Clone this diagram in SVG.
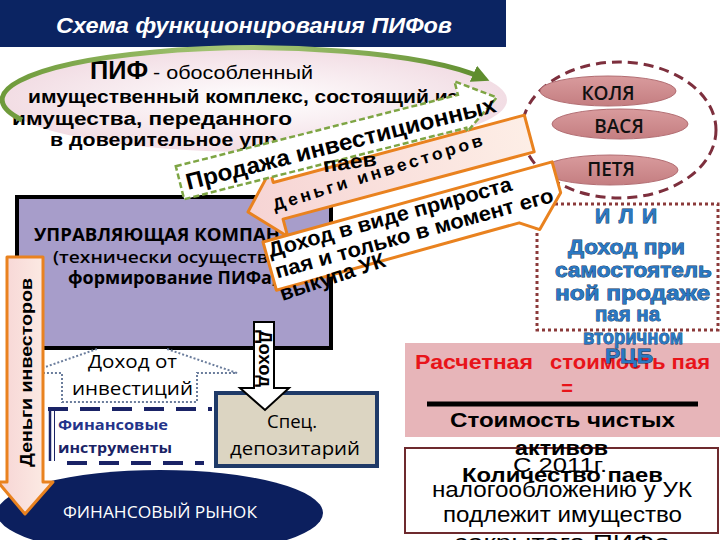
<svg xmlns="http://www.w3.org/2000/svg" width="720" height="540" viewBox="0 0 720 540">
<defs>
<style>
text{font-family:"Liberation Sans",Arial,sans-serif;fill:#000}
.b{font-weight:bold}
.cal{font-family:"Open Sans","Noto Sans",sans-serif}
.ili{font-weight:bold;font-size:21px;fill:#2a78c2;stroke:#0c2f57;stroke-width:0.8px;paint-order:stroke}
.name{font-family:"Open Sans","Noto Sans",sans-serif;font-weight:600;font-size:19px;fill:#111;text-anchor:middle}
.nm{fill:url(#gName);stroke:#b26d72;stroke-width:1}
.org{stroke:#e9821f;stroke-width:3;stroke-linejoin:round}
.navy{stroke:#1a2366;fill:none}
</style>
<radialGradient id="gPif" cx="0.5" cy="0.5" r="0.5">
<stop offset="0" stop-color="#ffffff"/><stop offset="1" stop-color="#f2dde4"/>
</radialGradient>
<linearGradient id="gGreen" x1="0" y1="0" x2="1" y2="0">
<stop offset="0" stop-color="#6e9a3a"/><stop offset="0.5" stop-color="#a9c97a"/><stop offset="1" stop-color="#5f8d2e"/>
</linearGradient>
<linearGradient id="gName" x1="0" y1="0" x2="0" y2="1">
<stop offset="0" stop-color="#d99b9d"/><stop offset="1" stop-color="#c47e81"/>
</linearGradient>
<linearGradient id="gPink" x1="0" y1="0" x2="1" y2="0">
<stop offset="0" stop-color="#f6d4d4"/><stop offset="1" stop-color="#fdeee6"/>
</linearGradient>
<marker id="mGreen" viewBox="0 0 10 10" refX="6" refY="5" markerWidth="3.5" markerHeight="3.5" orient="auto"><path d="M0,0 L10,5 L0,10 z" fill="#5f8d2e"/></marker>
</defs>
<rect x="0" y="0" width="720" height="540" fill="#fff"/>

<g id="title">
<rect x="0" y="0" width="506" height="47" fill="#0b2462"/>
<text x="56" y="33" class="b" font-style="italic" font-size="22" style="fill:#fff" textLength="396" lengthAdjust="spacingAndGlyphs">Схема функционирования ПИФов</text>
</g>

<g id="pif">
<ellipse cx="255" cy="100" rx="252" ry="52" fill="url(#gPif)"/>
<text x="90" y="79" class="b" font-size="26" textLength="58" lengthAdjust="spacingAndGlyphs">ПИФ</text>
<text x="153" y="79" font-size="19" textLength="160" lengthAdjust="spacingAndGlyphs">- обособленный</text>
<text x="28" y="103" class="b" font-size="18" textLength="430" lengthAdjust="spacingAndGlyphs">имущественный комплекс, состоящий из</text>
<text x="12" y="125" class="b" font-size="18" textLength="280" lengthAdjust="spacingAndGlyphs">имущества, переданного</text>
<text x="50" y="146" class="b" font-size="18" textLength="227" lengthAdjust="spacingAndGlyphs">в доверительное упр</text>
</g>

<g id="investors">
<ellipse cx="619" cy="130" rx="97" ry="68" fill="none" stroke="#7d2f3d" stroke-width="3" stroke-dasharray="10 6"/>
</g>
<g id="kolya"><ellipse class="nm" cx="608" cy="91" rx="68" ry="15"/><text class="name" x="608" y="100">КОЛЯ</text></g>
<g id="vasya"><ellipse class="nm" cx="620" cy="124" rx="68" ry="15"/><text class="name" x="619" y="133">ВАСЯ</text></g>
<g id="petya"><ellipse class="nm" cx="610" cy="170" rx="68" ry="15"/><text class="name" x="611" y="176">ПЕТЯ</text></g>

<g id="uk">
<rect x="17" y="197" width="314" height="151" fill="#a79dca" stroke="#000" stroke-width="4"/>
<text x="34" y="241" class="cal b" font-size="17" textLength="246" lengthAdjust="spacingAndGlyphs">УПРАВЛЯЮЩАЯ КОМПАН</text>
<text x="53" y="263" class="cal" font-weight="600" font-size="17" textLength="227" lengthAdjust="spacingAndGlyphs">(технически осуществл</text>
<text x="68" y="284" class="cal b" font-size="17" textLength="209" lengthAdjust="spacingAndGlyphs">формирование ПИФа,</text>
</g>

<g id="instruments">
<path class="navy" d="M48,409 H212" stroke-width="4" stroke-dasharray="20 12"/>
<path class="navy" d="M67,463 H204" stroke-width="4" stroke-dasharray="20 12"/>
<path class="navy" d="M50,411 V461" stroke-width="2.5"/>
<path class="navy" d="M54.5,411 V461" stroke-width="1"/>
<text x="58" y="430" class="cal b" font-size="15" style="fill:#24348a" textLength="110" lengthAdjust="spacingAndGlyphs">Финансовые</text>
<text x="58" y="453" class="cal b" font-size="15" style="fill:#1a2366" textLength="114" lengthAdjust="spacingAndGlyphs">инструменты</text>
</g>

<g id="depository">
<rect x="216" y="393" width="161" height="73" fill="#dcd5c2" stroke="#1f3a68" stroke-width="4"/>
<text x="267" y="428" class="cal" font-size="19" textLength="50" lengthAdjust="spacingAndGlyphs">Спец.</text>
<text x="230" y="455" class="cal" font-size="19" textLength="130" lengthAdjust="spacingAndGlyphs">депозитарий</text>
</g>

<g id="market">
<ellipse cx="160" cy="513" rx="163" ry="43" fill="#0c1f5e"/>
<text x="63" y="518" class="cal" font-size="16" style="fill:#fff" textLength="194" lengthAdjust="spacingAndGlyphs">ФИНАНСОВЫЙ РЫНОК</text>
</g>

<g id="tax">
<rect x="405" y="448" width="313" height="85" fill="#fff" stroke="#6e2a2e" stroke-width="2"/>
<text x="513" y="472" font-size="21" textLength="94" lengthAdjust="spacingAndGlyphs">С 2011г.</text>
<text x="462" y="482" class="b" font-size="21" textLength="201" lengthAdjust="spacingAndGlyphs">Количество паев</text>
<text x="432" y="497" font-size="22" textLength="260" lengthAdjust="spacingAndGlyphs">налогообложению у УК</text>
<text x="443" y="522" font-size="22" textLength="239" lengthAdjust="spacingAndGlyphs">подлежит имущество</text>
<text x="455" y="550" font-size="22" textLength="215" lengthAdjust="spacingAndGlyphs">закрытого ПИФа</text>
</g>

<g id="calc">
<rect x="405" y="343" width="315" height="94" fill="#e7b5b9"/>
<text x="415" y="369" class="b" font-size="20" style="fill:#e8141a" textLength="118" lengthAdjust="spacingAndGlyphs">Расчетная</text>
<text x="550" y="369" class="b" font-size="20" style="fill:#e8141a" textLength="160" lengthAdjust="spacingAndGlyphs">стоимость пая</text>
<text x="567" y="395" class="b" font-size="20" style="fill:#e8141a" text-anchor="middle">=</text>
<line x1="427" y1="404" x2="698" y2="404" stroke="#000" stroke-width="5"/>
<text x="450" y="427" class="b" font-size="20" textLength="225" lengthAdjust="spacingAndGlyphs">Стоимость чистых</text>
<text x="515" y="455" class="b" font-size="20" textLength="93" lengthAdjust="spacingAndGlyphs">активов</text>
</g>

<g id="or">
<rect x="537" y="204" width="181" height="126" fill="#fff" stroke="#8b3a3a" stroke-width="3" stroke-dasharray="3 3"/>
<text class="ili" x="595" y="223" textLength="62" lengthAdjust="spacing">ИЛИ</text>
<text class="ili" x="568" y="254" textLength="117" lengthAdjust="spacingAndGlyphs">Доход  при</text>
<text class="ili" x="555" y="277" textLength="157" lengthAdjust="spacingAndGlyphs">самостоятель</text>
<text class="ili" x="555" y="300" textLength="155" lengthAdjust="spacingAndGlyphs">ной продаже</text>
<text class="ili" x="595" y="321" textLength="65" lengthAdjust="spacingAndGlyphs">пая на</text>
<text class="ili" x="583" y="344" textLength="100" lengthAdjust="spacingAndGlyphs">вторичном</text>
<text class="ili" x="605" y="363" textLength="48" lengthAdjust="spacingAndGlyphs">РЦБ</text>
</g>

<g id="connectors">
<path d="M22,120 A252 52 0 0 1 483,78" fill="none" stroke="url(#gGreen)" stroke-width="5" marker-end="url(#mGreen)"/>

<g id="income-invest">
<path d="M97,349 L28,373 L62,373 L62,402 L197,402 L197,373 L237,373 L167,349" fill="#fff" stroke="#6b7d9c" stroke-width="2" stroke-dasharray="2 2"/>
<text x="88" y="368" class="cal" font-size="19" textLength="89" lengthAdjust="spacingAndGlyphs">Доход от</text>
<text x="72" y="395" class="cal" font-size="19" textLength="121" lengthAdjust="spacingAndGlyphs">инвестиций</text>
</g>

<g id="money-down">
<polygon points="7,257 43,257 43,482 53,482 25,514 -2,482 7,482" fill="url(#gPink)" class="org" stroke-width="2.5"/>
<text transform="translate(32,467) rotate(-90)" class="b" font-size="17" textLength="189" lengthAdjust="spacingAndGlyphs">Деньги инвесторов</text>
</g>

<g id="income-down">
<polygon points="254,322 274,322 274,388 289,388 265,410 240,388 254,388" fill="#fff" stroke="#000" stroke-width="2"/>
<text transform="translate(259,330) rotate(90)" class="b" font-size="18" textLength="57" lengthAdjust="spacingAndGlyphs">Доход</text>
</g>

<g id="money-in" transform="translate(248,212) rotate(-15)">
<polygon points="0,0 32,-34 32,-22 292,-22 292,16 32,16 32,34" fill="url(#gPink)" class="org"/>
<text x="26" y="6" transform="rotate(-2.5 26 6)" class="b" font-size="17" letter-spacing="3" textLength="222" lengthAdjust="spacingAndGlyphs">Деньги инвесторов</text>
</g>

<g id="sale" transform="translate(188,190) rotate(-14.2)">
<polygon points="-6,-26 285,-26 285,-40 322,-14 285,12 285,8 -6,8" fill="#fff" stroke="#7ea544" stroke-width="2.5" stroke-dasharray="6 3"/>
<text x="0" y="0" class="b" font-size="23" textLength="319" lengthAdjust="spacingAndGlyphs">Продажа инвестиционных</text>
<text x="136" y="16" transform="rotate(7 136 16)" class="b" font-size="20" textLength="54" lengthAdjust="spacingAndGlyphs">паев</text>
</g>

<g id="growth" transform="translate(263,242) rotate(-15.5)">
<path d="M0,0 H300 V32 L270,62 L252,50 H0 Z" fill="#fff" class="org"/>
<text x="3" y="17" class="b" font-size="21" textLength="252" lengthAdjust="spacingAndGlyphs">Доход в виде прироста</text>
<text x="4" y="39" class="b" font-size="21" textLength="288" lengthAdjust="spacingAndGlyphs">пая и только в момент его</text>
<text x="3" y="62" transform="rotate(-3 3 62)" class="b" font-size="21" textLength="110" lengthAdjust="spacingAndGlyphs">выкупа УК</text>
</g>
</g>
</svg>
